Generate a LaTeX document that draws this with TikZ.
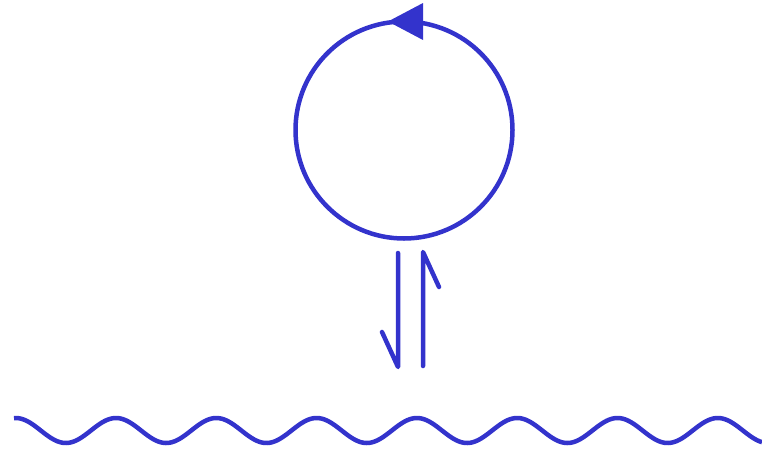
\documentclass[tikz,border=0pt]{standalone}
\usetikzlibrary{calc}
\definecolor{ink}{HTML}{3333CC}
\tikzset{
  feyn/.style={draw=ink, line width=4.5pt, line cap=round, line join=round},
  tipfill/.style={fill=ink, draw=none}
}
\begin{document}
\begin{tikzpicture}[x=1pt,y=-1pt]
\useasboundingbox (0,0) rectangle (762,453);
% loop
\coordinate (c) at (404,130);
\draw[feyn] (c) circle[radius=108.5];
\coordinate (t1) at (388,21.5);
\coordinate (t2) at (423,3);
\coordinate (t3) at (423,40);
\fill[tipfill] (t1) -- (t2) -- (t3) -- cycle;
% spin harpoons
\coordinate (da) at (398,253);
\coordinate (db) at (398,367);
\coordinate (dbarb) at (382,332);
\draw[feyn] (da) -- (db) -- (dbarb);
\coordinate (ua) at (423,366);
\coordinate (ub) at (423,252);
\coordinate (ubarb) at (439,287);
\draw[feyn] (ua) -- (ub) -- (ubarb);
% photon wave
\draw[draw=ink, line width=4.5pt] plot[domain=14:762, samples=400, smooth] (\x, {430.5 - 12.5*cos(3.5892*(\x-116))});
\end{tikzpicture}
\end{document}
